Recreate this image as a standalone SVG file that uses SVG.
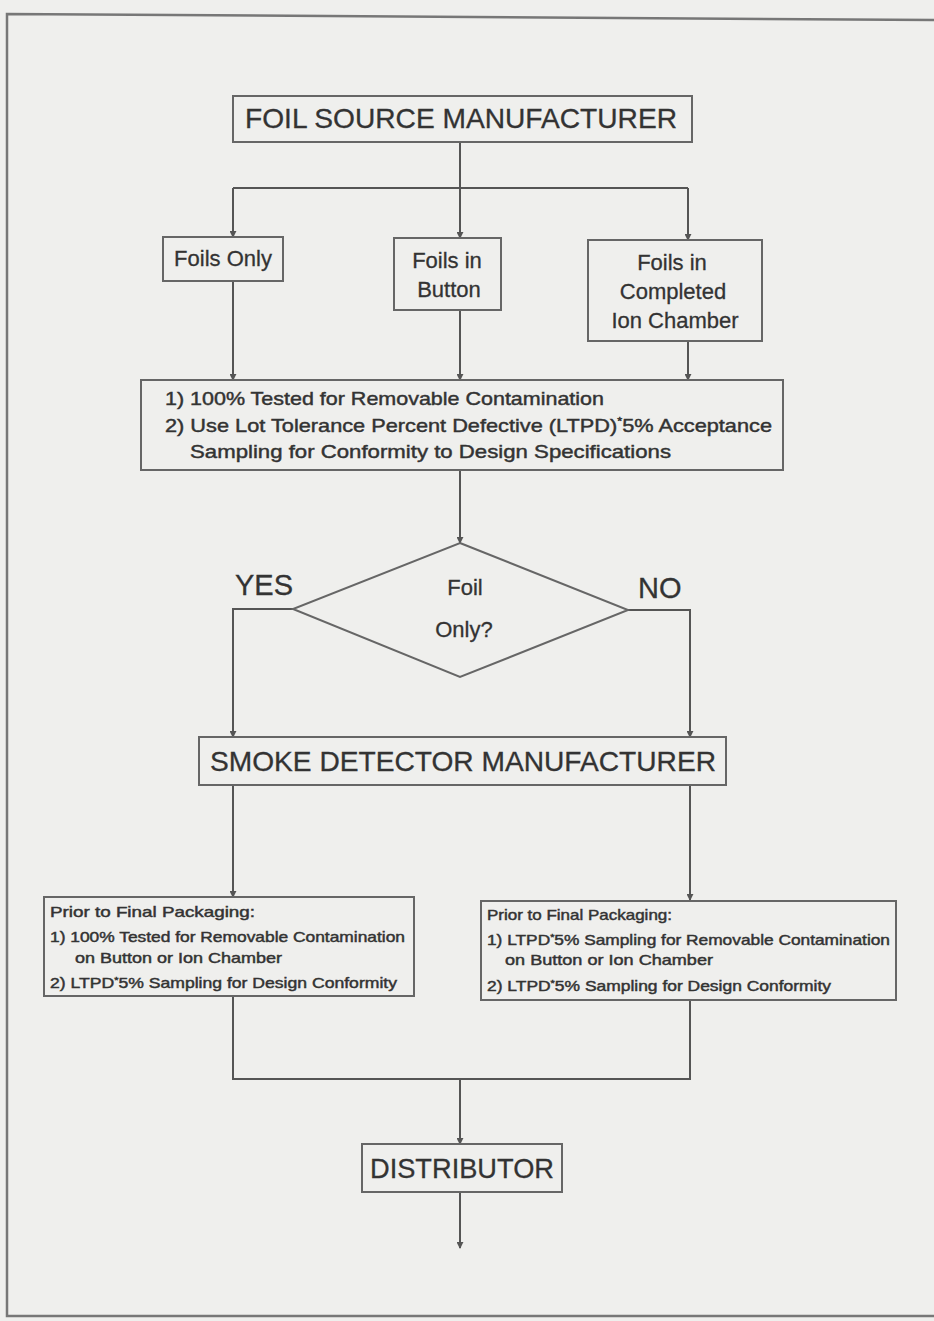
<svg xmlns="http://www.w3.org/2000/svg" width="934" height="1321" viewBox="0 0 934 1321">
<style>
.bg{fill:#efefed}
.box{fill:none;stroke:#666;stroke-width:2}
.ln{fill:none;stroke:#555;stroke-width:2}
.frame{fill:none;stroke:#777;stroke-width:2.5}
text{font-family:"Liberation Sans",Arial,sans-serif;fill:#333;stroke:#333;stroke-width:0.3}
.big{font-size:28px}
.mid{font-size:22px;text-anchor:middle}
.proc{font-size:19px;stroke-width:0.45}
.sm{font-size:14.5px;stroke-width:0.45}
.lbl{font-size:29px}
</style>
<defs>
<marker id="ah" viewBox="0 0 8 8" refX="7" refY="4" markerWidth="7" markerHeight="7" orient="auto" markerUnits="userSpaceOnUse">
<path d="M0,0 L8,4 L0,8 z" fill="#555"/>
</marker>
</defs>
<rect class="bg" x="0" y="0" width="934" height="1321"/>
<g id="frame">
<path class="frame" d="M934,20 L7,14 L7,1316 L934,1316"/>
</g>
<g id="connectors">
<path class="ln" d="M460,142 V188"/>
<path class="ln" d="M233,188 H688"/>
<path class="ln" d="M233,188 V237" marker-end="url(#ah)"/>
<path class="ln" d="M460,188 V238" marker-end="url(#ah)"/>
<path class="ln" d="M688,188 V240" marker-end="url(#ah)"/>
<path class="ln" d="M233,281 V380" marker-end="url(#ah)"/>
<path class="ln" d="M460,310 V380" marker-end="url(#ah)"/>
<path class="ln" d="M688,341 V380" marker-end="url(#ah)"/>
<path class="ln" d="M460,470 V543" marker-end="url(#ah)"/>
<path class="ln" d="M293,609 H233 V737" marker-end="url(#ah)"/>
<path class="ln" d="M628,610 H690 V737" marker-end="url(#ah)"/>
<path class="ln" d="M233,785 V897" marker-end="url(#ah)"/>
<path class="ln" d="M690,785 V900" marker-end="url(#ah)"/>
<path class="ln" d="M233,996 V1079 H690 V1000"/>
<path class="ln" d="M460,1079 V1144" marker-end="url(#ah)"/>
<path class="ln" d="M460,1192 V1248" marker-end="url(#ah)"/>
</g>
<g id="foil-source">
<rect class="box" x="233" y="96" width="459" height="46"/>
<text class="big" x="461" y="128" text-anchor="middle" textLength="432" lengthAdjust="spacingAndGlyphs">FOIL SOURCE MANUFACTURER</text>
</g>
<g id="foils-only">
<rect class="box" x="163" y="237" width="120" height="44"/>
<text class="mid" x="223" y="266">Foils Only</text>
</g>
<g id="foils-button">
<rect class="box" x="394" y="238" width="107" height="72"/>
<text class="mid" x="447" y="268">Foils in</text>
<text class="mid" x="449" y="297">Button</text>
</g>
<g id="foils-chamber">
<rect class="box" x="588" y="240" width="174" height="101"/>
<text class="mid" x="672" y="270">Foils in</text>
<text class="mid" x="673" y="299">Completed</text>
<text class="mid" x="675" y="328">Ion Chamber</text>
</g>
<g id="testing">
<rect class="box" x="141" y="380" width="642" height="90"/>
<text class="proc" x="165" y="405" textLength="439" lengthAdjust="spacingAndGlyphs">1) 100% Tested for Removable Contamination</text>
<text class="proc" x="165" y="432" textLength="607" lengthAdjust="spacingAndGlyphs">2) Use Lot Tolerance Percent Defective (LTPD)<tspan dy="-7" font-size="11">*</tspan><tspan dy="7">5% Acceptance</tspan></text>
<text class="proc" x="190" y="458" textLength="481" lengthAdjust="spacingAndGlyphs">Sampling for Conformity to Design Specifications</text>
</g>
<g id="decision">
<polygon class="box" points="460,543 628,610 460,677 293,609"/>
<text class="mid" x="465" y="595" font-size="24">Foil</text>
<text class="mid" x="464" y="637" font-size="24">Only?</text>
</g>
<text class="lbl" x="235" y="595">YES</text>
<text class="lbl" x="638" y="598">NO</text>
<g id="smoke-detector">
<rect class="box" x="199" y="737" width="527" height="48"/>
<text class="big" x="463" y="771" text-anchor="middle" textLength="506" lengthAdjust="spacingAndGlyphs">SMOKE DETECTOR MANUFACTURER</text>
</g>
<g id="yes-check">
<rect class="box" x="44" y="897" width="370" height="99"/>
<text class="sm" x="50" y="917" textLength="205" lengthAdjust="spacingAndGlyphs">Prior to Final Packaging:</text>
<text class="sm" x="50" y="942" textLength="355" lengthAdjust="spacingAndGlyphs">1) 100% Tested for Removable Contamination</text>
<text class="sm" x="75" y="963" textLength="207" lengthAdjust="spacingAndGlyphs">on Button or Ion Chamber</text>
<text class="sm" x="50" y="988" textLength="347" lengthAdjust="spacingAndGlyphs">2) LTPD<tspan dy="-5" font-size="9">*</tspan><tspan dy="5">5% Sampling for Design Conformity</tspan></text>
</g>
<g id="no-check">
<rect class="box" x="481" y="901" width="415" height="99"/>
<text class="sm" x="487" y="920" textLength="185" lengthAdjust="spacingAndGlyphs">Prior to Final Packaging:</text>
<text class="sm" x="487" y="945" textLength="403" lengthAdjust="spacingAndGlyphs">1) LTPD<tspan dy="-5" font-size="9">*</tspan><tspan dy="5">5% Sampling for Removable Contamination</tspan></text>
<text class="sm" x="505" y="965" textLength="208" lengthAdjust="spacingAndGlyphs">on Button or Ion Chamber</text>
<text class="sm" x="487" y="991" textLength="344" lengthAdjust="spacingAndGlyphs">2) LTPD<tspan dy="-5" font-size="9">*</tspan><tspan dy="5">5% Sampling for Design Conformity</tspan></text>
</g>
<g id="distributor">
<rect class="box" x="362" y="1144" width="200" height="48"/>
<text class="big" x="462" y="1178" text-anchor="middle" textLength="184" lengthAdjust="spacingAndGlyphs">DISTRIBUTOR</text>
</g>
</svg>
